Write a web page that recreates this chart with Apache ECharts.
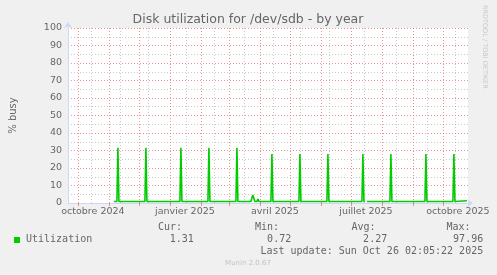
<!DOCTYPE html>
<html><head><meta charset="utf-8">
<script src="https://cdn.jsdelivr.net/npm/echarts@6/dist/echarts.min.js"></script>
<style>html,body{margin:0;padding:0;background:#f0f0f0;}#c{width:497px;height:275px;}</style>
</head><body><div id="c"></div>
<script>
// ---- data ----
const titleText = 'Disk utilization for /dev/sdb - by year';
const yAxisName = '% busy';
const rangeStart = '2024-09-21T02:05:00Z';
const rangeEnd = '2025-10-26T02:05:00Z';
const monthStarts = ['2024-10-01','2024-11-01','2024-12-01','2025-01-01','2025-02-01','2025-03-01','2025-04-01','2025-05-01','2025-06-01','2025-07-01','2025-08-01','2025-09-01','2025-10-01'];
const minorGridDates = ['2024-10-14','2024-11-12','2024-12-10','2025-01-17','2025-02-14','2025-03-16','2025-04-14','2025-05-11','2025-06-09','2025-07-14','2025-08-15','2025-09-15','2025-10-13'];
const xLabelDates = ['2024-10-16','2025-01-16','2025-04-16','2025-07-16','2025-10-16'];
const xLabels = ['octobre 2024','janvier 2025','avril 2025','juillet 2025','octobre 2025'];
const yMin = 0, yMax = 100, yStep = 10;

const utilDates = [
 '2024-11-06','2024-11-09','2024-11-10','2024-11-11',
 '2024-12-07','2024-12-08','2024-12-09',
 '2025-01-11','2025-01-12','2025-01-13',
 '2025-02-08','2025-02-09','2025-02-10',
 '2025-03-08','2025-03-09','2025-03-10',
 '2025-03-19','2025-03-20','2025-03-21',
 '2025-03-23','2025-03-24','2025-03-25','2025-03-26','2025-03-27',
 '2025-03-29','2025-03-30','2025-03-31',
 '2025-04-12','2025-04-13','2025-04-14',
 '2025-05-10','2025-05-11','2025-05-12',
 '2025-06-07','2025-06-08','2025-06-09',
 '2025-07-12','2025-07-13','2025-07-14','2025-07-15','2025-07-16','2025-07-17',
 '2025-08-09','2025-08-10','2025-08-11',
 '2025-09-13','2025-09-14','2025-09-15',
 '2025-10-11','2025-10-12','2025-10-13',
 '2025-10-25'
];
const utilValues = [
 0.9,0.9,31.5,0.9,
 0.9,31.5,0.9,
 0.9,31.5,0.9,
 0.9,31.5,0.9,
 0.9,31.5,0.9,
 0.9,1.7,0.9,
 0.9,3.0,4.6,2.5,0.9,
 0.9,2.3,0.9,
 0.9,28,0.9,
 0.9,28,0.9,
 0.9,28,0.9,
 0.9,28,0.9,0.9,null,0.9,
 0.9,28,0.9,
 0.9,28,0.9,
 0.9,28,0.9,
 1.3
];
const legendName = 'Utilization';
const statHeads = ['Cur:','Min:','Avg:','Max:'];
const statValues = ['1.31','0.72','2.27','97.96'];
const lastUpdate = 'Last update: Sun Oct 26 02:05:22 2025';
const footer = 'Munin 2.0.67';
const watermark = 'RRDTOOL / TOBI OETIKER';

// ---- chart ----
const t = s => Date.parse(s.length === 10 ? s + 'T00:00:00Z' : s);
const labelMap = {};
xLabelDates.forEach((d, i) => { labelMap[t(d)] = xLabels[i]; });

const FONT = '#666666';
const MGRID = 'rgba(224,90,90,0.65)';
const GRID = 'rgba(150,150,150,0.5)';
const AXIS = '#cfd6f8';
const sans = 'DejaVu Sans';

const chart = echarts.init(document.getElementById('c'), null, {renderer: 'canvas'});

const headLeft = [158, 255, 351.5, 446.5];
const valRight = [193.8, 291.2, 387.2, 483.2];
const graphics = [
  {type:'text', x:248, y:20, style:{text:titleText, fill:FONT, font:'12.5px "DejaVu Sans"', textAlign:'center', textVerticalAlign:'middle'}},
  {type:'text', x:485, y:5, rotation:-Math.PI/2, style:{text:watermark, fill:'#c8c8c8', font:'6.5px "DejaVu Sans"', textAlign:'left', textVerticalAlign:'middle'}},
  {type:'rect', shape:{x:14, y:237, width:6, height:6}, style:{fill:'#00cc00'}},
  {type:'text', x:26, y:239.5, style:{text:legendName, fill:FONT, font:'10px "DejaVu Sans Mono"', textAlign:'left', textVerticalAlign:'middle'}},
  {type:'text', x:483.2, y:251.5, style:{text:lastUpdate, fill:FONT, font:'10px "DejaVu Sans Mono"', textAlign:'right', textVerticalAlign:'middle'}},
  {type:'text', x:248, y:263.5, style:{text:footer, fill:'#c4c4c4', font:'7px "DejaVu Sans"', textAlign:'center', textVerticalAlign:'middle'}}
];
statHeads.forEach((h, i) => {
  graphics.push({type:'text', x:headLeft[i], y:227.5, style:{text:h, fill:FONT, font:'10px "DejaVu Sans Mono"', textAlign:'left', textVerticalAlign:'middle'}});
  graphics.push({type:'text', x:valRight[i], y:239.5, style:{text:statValues[i], fill:FONT, font:'10px "DejaVu Sans Mono"', textAlign:'right', textVerticalAlign:'middle'}});
});

function gridLines(dates, color, z) {
  return {
    type:'line', xAxisIndex:0, yAxisIndex:0, data:[], silent:true, z:z,
    markLine:{silent:true, symbol:['none','none'], animation:false,
      label:{show:false}, emphasis:{disabled:true},
      lineStyle:{color:color, type:[1,2], width:1},
      data: dates.map(d => ({xAxis: t(d)}))}
  };
}

const option = {
  animation: false,
  backgroundColor: '#f0f0f0',
  grid: {left:66, top:28, width:402, height:175, show:true, backgroundColor:'#ffffff', borderWidth:0},
  xAxis: {type:'value', min:t(rangeStart), max:t(rangeEnd),
     axisLine:{show:true, lineStyle:{color:AXIS, width:1}, symbol:['none','arrow'], symbolSize:[6,6], symbolOffset:[0,5]},
     axisTick:{show:true, customValues:monthStarts.map(t), length:3, lineStyle:{color:MGRID}},
     splitLine:{show:false},
     axisLabel:{customValues:xLabelDates.map(t), formatter:v => labelMap[v] || '', color:FONT, fontFamily:sans, fontSize:9.5, margin:4}
  },
  yAxis: {type:'value', min:yMin, max:yMax, interval:yStep,
    name:yAxisName, nameLocation:'middle', nameGap:50,
    nameTextStyle:{color:FONT, fontFamily:sans, fontSize:10},
    axisLine:{show:true, lineStyle:{color:AXIS, width:1}, symbol:['none','arrow'], symbolSize:[6,6], symbolOffset:[0,6]},
    axisTick:{show:false},
    axisLabel:{color:FONT, fontFamily:sans, fontSize:9.5, margin:6},
    splitLine:{show:true, lineStyle:{color:MGRID, type:[1,2], width:1}},
    minorTick:{show:false, splitNumber:2},
    minorSplitLine:{show:true, lineStyle:{color:GRID, type:[1,2], width:1}}
  },
  series: [
    gridLines(minorGridDates, GRID, 1),
    gridLines(monthStarts, MGRID, 2),
    {
    type:'line', xAxisIndex:0, yAxisIndex:0, name:legendName,
    data: utilDates.map((d, i) => [t(d), utilValues[i] === null ? '-' : utilValues[i]]),
    showSymbol:false, symbol:'none', connectNulls:false,
    lineStyle:{color:'#00cc00', width:1.6}, z:5
  }],
  graphic: graphics
};
chart.setOption(option);
</script>
</body></html>
